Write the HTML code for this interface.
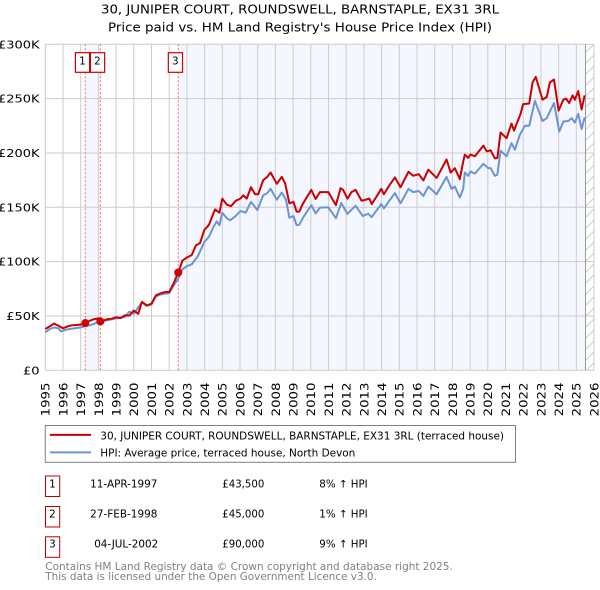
<!DOCTYPE html>
<html>
<head>
<meta charset="utf-8">
<style>
html,body{margin:0;padding:0;background:#fff}
svg{display:block}
text{font-family:"DejaVu Sans","Liberation Sans",sans-serif;fill:#000}
</style>
</head>
<body>
<svg id="chart" xmlns="http://www.w3.org/2000/svg" width="600" height="590" viewBox="0 0 600 590">
<defs>
<pattern id="hatch" patternUnits="userSpaceOnUse" width="11" height="11">
<path d="M-1 12 L12 -1" stroke="#ccc" stroke-width="1" fill="none"/>
</pattern>
</defs>
<text x="101" y="13.5" font-size="12" textLength="398" lengthAdjust="spacingAndGlyphs">30, JUNIPER COURT, ROUNDSWELL, BARNSTAPLE, EX31 3RL</text>
<text x="108" y="31.5" font-size="12" textLength="384" lengthAdjust="spacingAndGlyphs">Price paid vs. HM Land Registry's House Price Index (HPI)</text>
<g id="plot"></g>
<g>
<rect x="45.3" y="425.5" width="470.2" height="36.8" fill="#fff" stroke="#808080" stroke-width="1"/>
<line x1="50" x2="91" y1="434.9" y2="434.9" stroke="#cc0000" stroke-width="2"/>
<text x="100.3" y="439.3" font-size="10.4" textLength="403.7" lengthAdjust="spacingAndGlyphs">30, JUNIPER COURT, ROUNDSWELL, BARNSTAPLE, EX31 3RL (terraced house)</text>
<line x1="50" x2="91" y1="452.4" y2="452.4" stroke="#6a94d4" stroke-width="2"/>
<text x="100.3" y="456.5" font-size="10.4" textLength="255" lengthAdjust="spacingAndGlyphs">HPI: Average price, terraced house, North Devon</text>
</g>
<g>
<rect x="45.5" y="476" width="14.2" height="20.5" fill="#fff" stroke="#bb0000" stroke-width="1"/>
<text x="52.4" y="487.5" text-anchor="middle" font-size="10.4">1</text>
<text x="90.2" y="487.5" font-size="10.4" textLength="67.2" lengthAdjust="spacingAndGlyphs">11-APR-1997</text>
<text x="222.3" y="487.5" font-size="10.4" textLength="42" lengthAdjust="spacingAndGlyphs">£43,500</text>
<text x="319.3" y="487.5" font-size="10.4" textLength="48.4" lengthAdjust="spacingAndGlyphs">8% ↑ HPI</text>
<rect x="45.5" y="506.5" width="14.2" height="20.5" fill="#fff" stroke="#bb0000" stroke-width="1"/>
<text x="52.4" y="517.5" text-anchor="middle" font-size="10.4">2</text>
<text x="90.2" y="517.5" font-size="10.4" textLength="67.2" lengthAdjust="spacingAndGlyphs">27-FEB-1998</text>
<text x="222.3" y="517.5" font-size="10.4" textLength="42" lengthAdjust="spacingAndGlyphs">£45,000</text>
<text x="319.3" y="517.5" font-size="10.4" textLength="48.4" lengthAdjust="spacingAndGlyphs">1% ↑ HPI</text>
<rect x="45.5" y="536.8" width="14.2" height="20.5" fill="#fff" stroke="#bb0000" stroke-width="1"/>
<text x="52.4" y="547.5" text-anchor="middle" font-size="10.4">3</text>
<text x="94.2" y="547.5" font-size="10.4" textLength="64" lengthAdjust="spacingAndGlyphs">04-JUL-2002</text>
<text x="222.3" y="547.5" font-size="10.4" textLength="42" lengthAdjust="spacingAndGlyphs">£90,000</text>
<text x="319.3" y="547.5" font-size="10.4" textLength="48.4" lengthAdjust="spacingAndGlyphs">9% ↑ HPI</text>
</g>
<text x="45.3" y="570" font-size="10.4" textLength="407.5" lengthAdjust="spacingAndGlyphs" style="fill:#808080">Contains HM Land Registry data © Crown copyright and database right 2025.</text>
<text x="45.3" y="580" font-size="10.4" textLength="331.5" lengthAdjust="spacingAndGlyphs" style="fill:#808080">This data is licensed under the Open Government Licence v3.0.</text>
</svg>
<script>
const yearTicks = [1995,1996,1997,1998,1999,2000,2001,2002,2003,2004,2005,2006,2007,2008,2009,2010,2011,2012,2013,2014,2015,2016,2017,2018,2019,2020,2021,2022,2023,2024,2025,2026];
const valueTicks = [0,50,100,150,200,250,300];
const valueTickLabels = ["£0","£50K","£100K","£150K","£200K","£250K","£300K"];
const priceDates = [1995,1995.25,1995.5,1995.75,1996,1996.25,1996.5,1996.75,1997,1997.26,1997.5,1997.75,1998,1998.16,1998.5,1998.75,1999,1999.25,1999.5,1999.75,2000,2000.25,2000.46,2000.75,2001,2001.25,2001.5,2001.75,2002,2002.25,2002.51,2002.75,2003.02,2003.27,2003.51,2003.74,2003.98,2004.25,2004.5,2004.59,2004.84,2005,2005.25,2005.49,2005.76,2006.02,2006.19,2006.38,2006.62,2006.85,2007.03,2007.31,2007.54,2007.73,2008.08,2008.36,2008.55,2008.79,2009.02,2009.2,2009.35,2009.54,2010.03,2010.27,2010.52,2010.99,2011.42,2011.68,2011.83,2012.07,2012.3,2012.53,2012.87,2013.31,2013.44,2013.72,2013.98,2014.13,2014.43,2014.75,2015.07,2015.52,2015.78,2016.1,2016.36,2016.64,2017.11,2017.67,2017.9,2018.14,2018.42,2018.61,2018.7,2018.89,2019.02,2019.27,2019.75,2019.94,2020.16,2020.4,2020.54,2020.72,2021.06,2021.34,2021.48,2021.66,2021.85,2022,2022.34,2022.53,2022.71,2023.09,2023.33,2023.51,2023.74,2024,2024.27,2024.42,2024.6,2024.79,2024.92,2025.11,2025.3,2025.47];
const priceValues = [38,40.4,43,41,38.6,40.4,41.4,41.7,42,43.5,45.5,47,47.8,45,47,47.5,48.8,48,50.6,50.3,55,52,63,59.5,61.4,69,70.7,72,72,80,90,101,104,106,115,117,129,134,144.5,148,145,158,152.5,151,156,158,161,158,168.5,162,162,175,178,182,171.6,178,172,153.7,155,146,146,153,166,157.7,164,164,152,167.6,166,158,164,166,156,158,153,160,167,162,170,177.5,168.5,182.7,179,180.5,174.7,184.6,177,194,182,186,176,192,198.5,195.5,198.5,197,206.7,201.5,202.4,195,195.5,218.8,213.6,227,220.6,228,236,245,245.5,265,270,249,251.5,265,267.6,239,249,250,246,253,249,257,240,253];
const hpiDates = [1995,1995.25,1995.5,1995.75,1995.88,1996.25,1997,1997.63,1998,1998.5,1999,1999.5,1999.75,2000,2000.46,2000.7,2001,2001.25,2001.5,2002,2002.25,2002.5,2002.75,2003.02,2003.27,2003.62,2003.98,2004.25,2004.5,2004.69,2004.84,2005,2005.25,2005.44,2005.76,2006.02,2006.32,2006.62,2006.98,2007.31,2007.54,2007.73,2008.08,2008.36,2008.6,2008.79,2009.02,2009.2,2009.35,2009.58,2010.03,2010.27,2010.52,2010.99,2011.42,2011.72,2012.07,2012.53,2012.93,2013.25,2013.44,2013.98,2014.13,2014.43,2014.75,2015.07,2015.52,2015.78,2016.1,2016.36,2016.64,2017.11,2017.67,2017.95,2018.14,2018.42,2018.61,2018.7,2018.89,2019.02,2019.27,2019.75,2020.03,2020.16,2020.4,2020.54,2020.72,2021.06,2021.34,2021.53,2021.81,2022.1,2022.34,2022.66,2023.09,2023.33,2023.74,2024.04,2024.27,2024.55,2024.74,2024.92,2025.11,2025.3,2025.47];
const hpiValues = [35,38,39.5,38.6,35.8,37.7,39.5,42,44.4,46,47.8,49,54,52,62.6,59.6,60.5,68,69.7,71,78,84,93,96,97.5,105,118,123,132,137,133.6,145,140,138,142,146.6,145,155,147.5,161,163,167,157,163.6,157,140.4,142,133.6,134,141,152,144.4,149.7,150,140,154,144,151.5,142,144,141,153,149,156,163,153.7,167,164,165,160.5,169,162,178,167,169,159,167,182,179,183,181,190,186,186,179,180,202,197,209,203,216.7,225,225,248,229.4,232,246,219.7,229,229.4,232,228,236,222,232.7];
const saleDates = [1997.26,1998.11,2002.51];
const salePrices = [43.5,45,90];
const saleLabels = ["1","2","3"];
const bandRanges = [[1997.26,1998.11],[2002.51,2025.52]];

const NS = "http://www.w3.org/2000/svg";
const plot = document.getElementById("plot");
const left = 45.3, top_ = 44.3, bottom = 370.3, right = 594;
const x = year => left + (year - 1995) * (right - left) / 31;
const y = val => bottom - val * (bottom - top_) / 300;
function make(tag, attrs, parent) {
  const el = document.createElementNS(NS, tag);
  for (const k in attrs) el.setAttribute(k, attrs[k]);
  (parent || plot).appendChild(el);
  return el;
}
bandRanges.forEach(r => {
  const el = make("rect", {x: x(r[0]), y: top_, width: x(r[1]) - x(r[0]), height: bottom - top_, fill: "#f4f7ff"});
  
  
});
const hatchX = x(bandRanges[1][1]);
const hatchRect = make("rect", {x: hatchX, y: top_, width: right - hatchX, height: bottom - top_, fill: "url(#hatch)"});


valueTicks.forEach((v, i) => {
  const g = make("line", {x1: left, x2: right, y1: y(v), y2: y(v), stroke: "#cccccc", "stroke-width": 1});
  
  
  const t = make("text", {transform: `translate(39.5,${y(v) + 4}) scale(1.18,1)`, "text-anchor": "end", "font-size": 11});
  t.textContent = valueTickLabels[i];
  
  
});
yearTicks.forEach(yr => {
  const g = make("line", {x1: x(yr), x2: x(yr), y1: top_, y2: bottom, stroke: "#cccccc", "stroke-width": 1});
  
  
  const t = make("text", {transform: `translate(${x(yr) + 4.4},382.5) rotate(-90) scale(1.18,1)`, "text-anchor": "end", "font-size": 11.3});
  t.textContent = yr;
  
  
});
const endLine = make("line", {x1: hatchX, x2: hatchX, y1: top_, y2: bottom, stroke: "#999999", "stroke-width": 1});


saleDates.forEach(d => {
  const l = make("line", {x1: x(d), x2: x(d), y1: top_, y2: bottom, stroke: "#ff6666", "stroke-width": 1, "stroke-dasharray": "2 2"});
  
  
});
function pathFrom(dates, values) {
  return dates.map((d, i) => (i ? "L" : "M") + x(d).toFixed(2) + " " + y(values[i]).toFixed(2)).join(" ");
}
const hpiLine = make("path", {d: pathFrom(hpiDates, hpiValues), fill: "none", stroke: "#6a94d4", "stroke-width": 2, "stroke-linejoin": "round"});


const priceLine = make("path", {d: pathFrom(priceDates, priceValues), fill: "none", stroke: "#cc0000", "stroke-width": 2, "stroke-linejoin": "round"});


saleDates.forEach((d, i) => {
  const c = make("circle", {cx: x(d), cy: y(salePrices[i]), r: 4, fill: "#cc0000"});
  
  
  const b = make("rect", {x: x(d) - 9.9, y: 52.7, width: 14.2, height: 19.6, fill: "#fff", stroke: "#cc0000", "stroke-width": 1.2});
  
  
  const t = make("text", {x: x(d) - 2.9, y: 64.5, "text-anchor": "middle", "font-size": 10.4});
  t.textContent = saleLabels[i];
  
  
});
</script>
</body>
</html>
